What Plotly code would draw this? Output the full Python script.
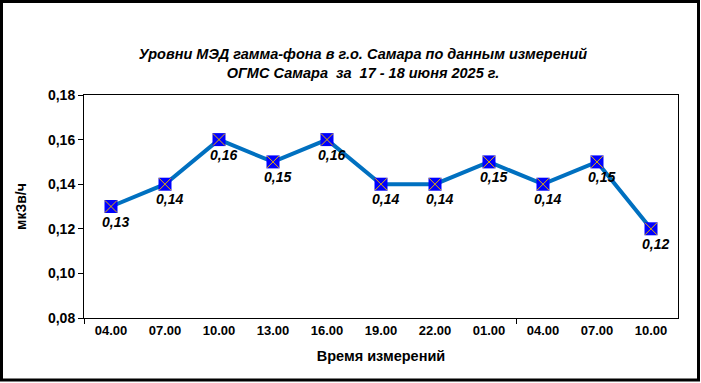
import plotly.graph_objects as go

times = ["04.00", "07.00", "10.00", "13.00", "16.00", "19.00", "22.00", "01.00", "04.00", "07.00", "10.00"]
values = [0.13, 0.14, 0.16, 0.15, 0.16, 0.14, 0.14, 0.15, 0.14, 0.15, 0.12]
y_ticks = [0.08, 0.10, 0.12, 0.14, 0.16, 0.18]
y_tick_labels = ["0,08", "0,10", "0,12", "0,14", "0,16", "0,18"]
title_lines = ["Уровни МЭД гамма-фона в г.о. Самара по данным измерений",
               "ОГМС Самара  за  17 - 18 июня 2025 г."]
x_title = "Время измерений"
y_title = "мкЗв/ч"

FONT = "Liberation Sans, Arial, sans-serif"
xs = list(range(len(times)))

fig = go.Figure()
fig.add_trace(go.Scatter(
    x=xs, y=values, mode="lines+markers",
    line=dict(color="#0070C0", width=4),
    marker=dict(symbol="square", size=13, color="#0000FF",
                line=dict(color="#0000FF", width=0)),
    hoverinfo="skip", showlegend=False,
))
fig.add_trace(go.Scatter(
    x=xs, y=values, mode="markers",
    marker=dict(symbol="x-thin", size=12, color="#E8B000",
                line=dict(color="#E8B000", width=1)),
    hoverinfo="skip", showlegend=False,
))
fig.add_trace(go.Scatter(x=[None], y=[None], xaxis="x2", showlegend=False))

for x, v in zip(xs, values):
    fig.add_annotation(
        x=x, y=v, text=("%.2f" % v).replace(".", ","), showarrow=False,
        xshift=4, yshift=-15,
        font=dict(family=FONT, size=14, color="black", weight="bold", style="italic"),
    )

L, R, T, B = 84, 678, 95, 318
W, H = 701, 383
pw, ph = R - L, B - T

fig.update_layout(
    width=W, height=H,
    margin=dict(l=L, r=W - R, t=T, b=H - B, pad=0, autoexpand=False),
    paper_bgcolor="white", plot_bgcolor="white",
    title=dict(
        text="<br>".join(title_lines),
        x=363 / W, xref="container", xanchor="center",
        y=(H - 59) / H, yref="container", yanchor="middle",
        automargin=False,
        font=dict(family=FONT, size=14.5, color="black", weight="bold", style="italic"),
    ),
    xaxis=dict(
        range=[-0.5, len(times) - 0.5], automargin=False,
        tickvals=xs, ticktext=times, ticks="", showgrid=False, zeroline=False,
        showline=True, linecolor="black", linewidth=1, mirror=True,
        tickfont=dict(family=FONT, size=13, color="black", weight="bold"),
        title=dict(text=x_title, standoff=14,
                   font=dict(family=FONT, size=14.5, color="black", weight="bold")),
    ),
    xaxis2=dict(
        overlaying="x", range=[-0.5, len(times) - 0.5], side="bottom",
        tickvals=[-0.5, 7.5], ticks="outside", ticklen=5, tickcolor="black",
        showticklabels=False, showgrid=False, zeroline=False, showline=False,
    ),
    yaxis=dict(
        range=[0.08, 0.18], tickvals=y_ticks, ticktext=y_tick_labels, automargin=False,
        ticks="outside", ticklen=5, tickcolor="black",
        showgrid=False, zeroline=False,
        showline=True, linecolor="black", linewidth=1, mirror=True,
        tickfont=dict(family=FONT, size=14, color="black", weight="bold"),
        title=dict(text=y_title, standoff=18,
                   font=dict(family=FONT, size=14, color="black", weight="bold")),
    ),
    shapes=[dict(
        type="rect", xref="paper", yref="paper",
        x0=(1.5 - L) / pw, x1=(698.5 - L) / pw,
        y0=(B - 380) / ph, y1=(B - 1.5) / ph,
        line=dict(color="black", width=3), fillcolor="rgba(0,0,0,0)", layer="above",
    )],
)

fig.write_html("out.html", config={"displayModeBar": False},
               post_script="document.body.style.margin='0';document.body.style.overflow='hidden';")
